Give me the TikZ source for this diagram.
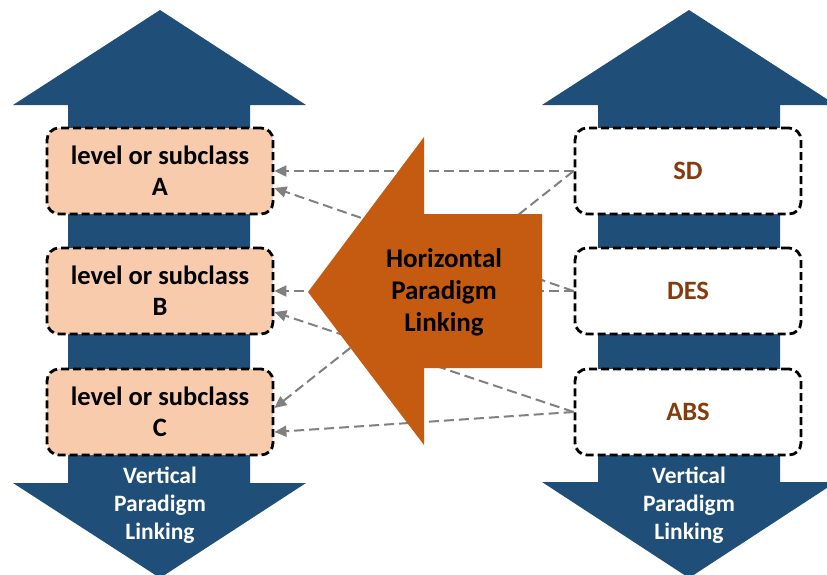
\documentclass[tikz,border=0pt]{standalone}
\usepackage{fontspec}
\setmainfont{Carlito}
\usetikzlibrary{arrows.meta}

\definecolor{darkblue}{HTML}{1F4E79}
\definecolor{burntorange}{HTML}{C55A11}
\definecolor{peach}{HTML}{F8CBAD}
\definecolor{brownlabel}{HTML}{843C0C}

\tikzset{
  levelbox/.style={draw=black, line width=2.8pt, dash pattern=on 8pt off 4pt,
    rounded corners=12pt, minimum width=226pt, minimum height=86pt,
    align=center, font=\bfseries\fontsize{26.5}{31}\selectfont},
  link/.style={draw=gray, line width=2pt, dash pattern=on 10pt off 5pt,
    -{Triangle[length=12pt,width=11pt]}},
  arrowtext/.style={align=center, font=\bfseries\fontsize{23.5}{28}\selectfont}
}

\begin{document}
\begin{tikzpicture}[x=1pt,y=-1pt]
\useasboundingbox (0,0) rectangle (827,574);

% Left vertical arrow
\fill[darkblue]
(160,10) -- (306,105) -- (250,105) -- (250,483) -- (306,483)
-- (160,578) -- (13,483) -- (68,483) -- (68,105) -- (13,105) -- cycle;

% Right vertical arrow
\fill[darkblue]
(689,10) -- (836,105) -- (780,105) -- (780,482) -- (836,482)
-- (689,578) -- (542,482) -- (598,482) -- (598,105) -- (542,105) -- cycle;

% Levels or subclasses
\node[levelbox, fill=peach] (A) at (160,171) {level or subclass\\A};
\node[levelbox, fill=peach] (B) at (160,291) {level or subclass\\B};
\node[levelbox, fill=peach] (C) at (160,412) {level or subclass\\C};

% Paradigms
\node[levelbox, fill=white, text=brownlabel] (SD) at (688,171) {SD};
\node[levelbox, fill=white, text=brownlabel] (DES) at (688,291) {DES};
\node[levelbox, fill=white, text=brownlabel] (ABS) at (688,412) {ABS};

% Links
\draw[link] (SD.west) -- (A.east);
\draw[link] (DES.west) -- ([yshift=-17pt]A.east);
\draw[link] (SD.west) -- ([yshift=4pt]C.east);
\draw[link] (DES.west) -- (B.east);
\draw[link] (ABS.west) -- ([yshift=-21pt]B.east);
\draw[link] (ABS.west) -- ([yshift=-20pt]C.east);

% Horizontal arrow
\fill[burntorange]
(308,292) -- (424,137) -- (424,214) -- (542,214)
-- (542,368) -- (424,368) -- (424,445) -- cycle;

\node[arrowtext, font=\bfseries\fontsize{27}{32}\selectfont] (HPL) at (444,292)
{Horizontal\\Paradigm\\Linking};

% Vertical labels
\node[arrowtext, text=white] (VPLleft) at (160,505)
{Vertical\\Paradigm\\Linking};
\node[arrowtext, text=white] (VPLright) at (689,505)
{Vertical\\Paradigm\\Linking};

\end{tikzpicture}
\end{document}
